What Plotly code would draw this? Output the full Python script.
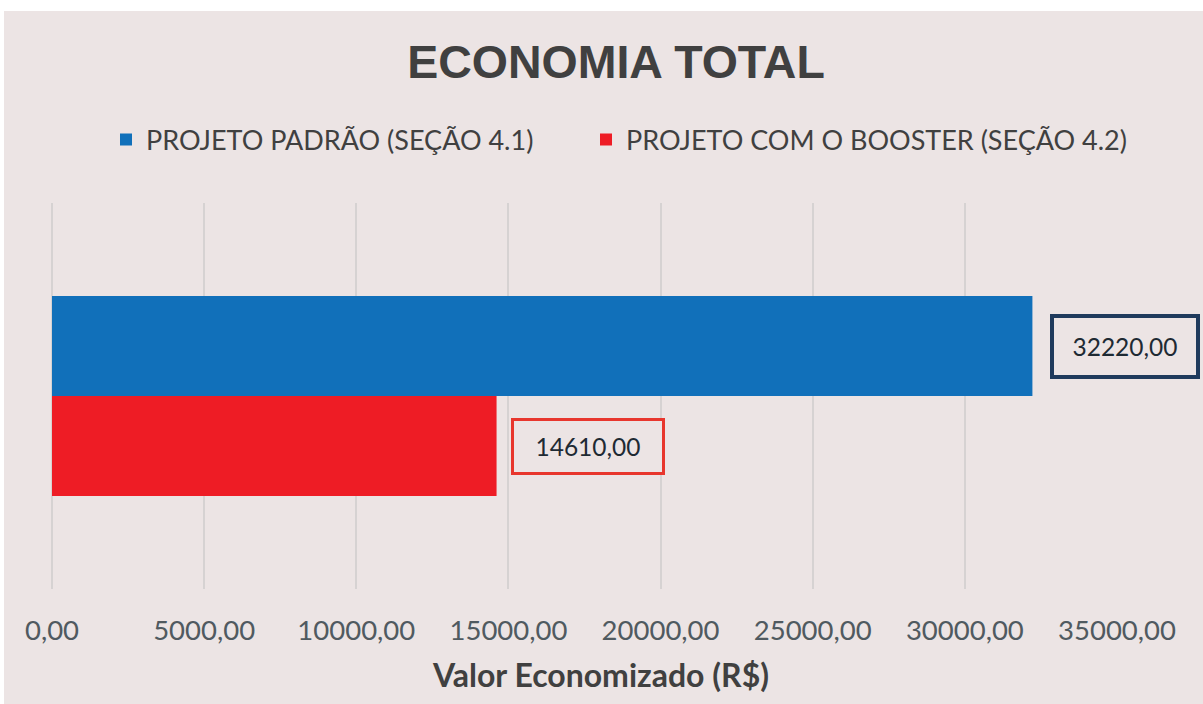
import plotly.graph_objects as go

# Chart data
series_names = ["PROJETO PADRÃO (SEÇÃO 4.1)", "PROJETO COM O BOOSTER (SEÇÃO 4.2)"]
categories = ["padrao", "booster"]
savings = [32220.00, 14610.00]
bar_colors = ["#1170BA", "#EE1C25"]
label_borders = ["#1F3A5C", "#E8362D"]
tick_values = [0, 5000, 10000, 15000, 20000, 25000, 30000, 35000]
tick_labels = ["0,00", "5000,00", "10000,00", "15000,00", "20000,00", "25000,00", "30000,00", "35000,00"]

BG = "#ECE4E4"
W, H = 1203, 704
M_L, M_R, M_T, M_B = 52, 86, 203, 115
pw = W - M_L - M_R
ph = H - M_T - M_B


def br(v):
    return f"{v:.2f}".replace(".", ",")


def px_x(x):
    return (x - M_L) / pw


def px_y(y):
    return (H - M_B - y) / ph


fig = go.Figure()
legend_ids = ["legend", "legend2"]
for name, cat, val, col, lg in zip(series_names, categories, savings, bar_colors, legend_ids):
    fig.add_trace(go.Bar(
        x=[val], y=[cat], name=name, orientation="h",
        marker=dict(color=col, line=dict(width=0)),
        width=1.0, hoverinfo="skip", legend=lg,
    ))

# Boxed value labels next to the bar ends
for cat, val, bcol, bw, w, h, dx in zip(categories, savings, label_borders,
                                       [4, 3], [142, 148], [57, 51], [18, 14]):
    fig.add_annotation(
        x=val, y=cat, xref="x", yref="y",
        text=br(val), showarrow=False,
        xanchor="left", yanchor="middle", xshift=dx,
        font=dict(family="Lato", size=24.5, color="#1E2A33"),
        bgcolor=BG, bordercolor=bcol, borderwidth=bw, borderpad=0,
        width=w, height=h, align="center", valign="middle",
    )

# Axis title below tick labels
fig.add_annotation(
    x=px_x(600), y=px_y(674), xref="paper", yref="paper",
    text="<b>Valor Economizado (R$)</b>", showarrow=False,
    xanchor="center", yanchor="middle",
    font=dict(family="Lato", size=32, color="#404040"),
)

# Thin white strips along the top and left edges
fig.add_shape(type="rect", xref="paper", yref="paper",
              x0=px_x(0), x1=px_x(W), y0=px_y(11), y1=px_y(0),
              fillcolor="white", line=dict(width=0), layer="above")
fig.add_shape(type="rect", xref="paper", yref="paper",
              x0=px_x(0), x1=px_x(4), y0=px_y(H), y1=px_y(0),
              fillcolor="white", line=dict(width=0), layer="above")

legend_style = dict(
    orientation="h", xref="container", yref="container",
    xanchor="left", y=1 - 140 / H, yanchor="middle",
    font=dict(family="Lato", size=27, color="#404040"),
    bgcolor="rgba(0,0,0,0)", itemclick=False, itemdoubleclick=False,
)

ux = ph / 100.0  # category units visible (100 px per bar)
fig.update_layout(
    width=W, height=H,
    margin=dict(l=M_L, r=M_R, t=M_T, b=M_B, autoexpand=False),
    paper_bgcolor=BG, plot_bgcolor=BG,
    barmode="overlay",
    title=dict(
        text="<b>ECONOMIA TOTAL</b>", x=616 / W, xanchor="center",
        y=1 - 62 / H, yanchor="middle", xref="container", yref="container",
        font=dict(family="Liberation Sans", size=46.5, color="#404040"),
    ),
    legend=dict(legend_style, x=106 / W),
    legend2=dict(legend_style, x=586 / W),
    xaxis=dict(
        range=[0, 35000], tickvals=tick_values, ticktext=tick_labels,
        showgrid=True, gridcolor="#D6D2D2", gridwidth=2,
        zeroline=True, zerolinecolor="#D6D2D2", zerolinewidth=2, showline=False,
        ticks="outside", ticklen=17, tickcolor="rgba(0,0,0,0)",
        tickfont=dict(family="Lato", size=27.5, color="#505A60"),
        fixedrange=True,
    ),
    yaxis=dict(
        type="category", categoryarray=categories,
        range=[0.5 + ux / 2, 0.5 - ux / 2],
        showticklabels=False, showgrid=False, zeroline=False, fixedrange=True,
    ),
    showlegend=True,
)

fig.write_html("out.html")
